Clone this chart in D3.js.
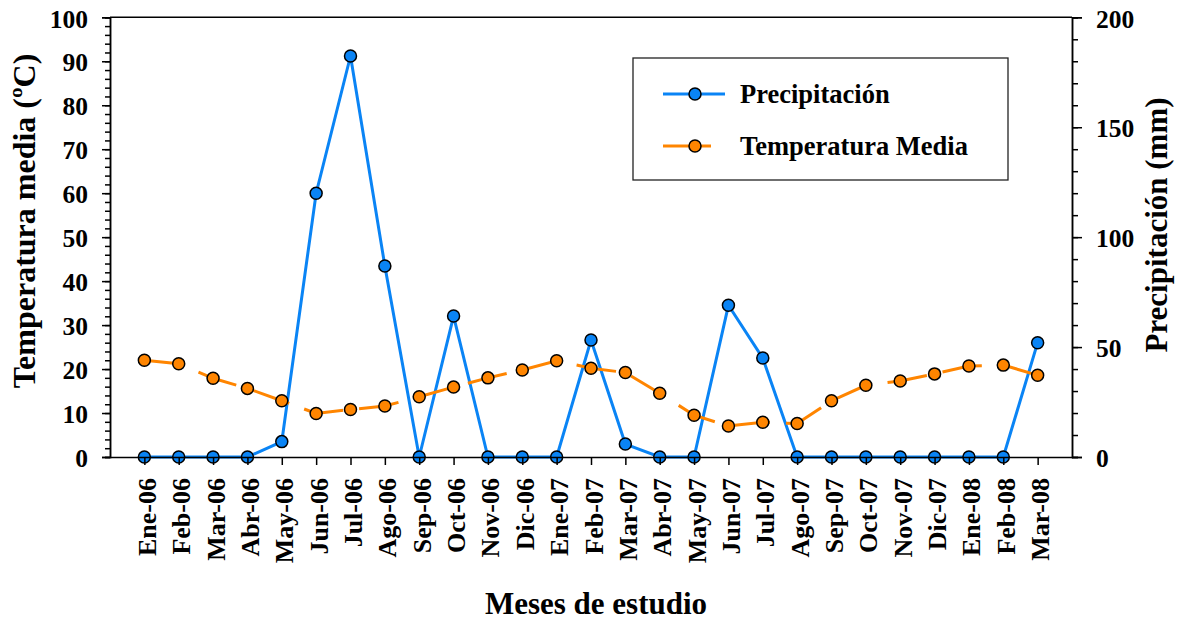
<!DOCTYPE html>
<html>
<head>
<meta charset="utf-8">
<script src="https://cdn.jsdelivr.net/npm/d3@7"></script>
<style>
  html, body { margin: 0; padding: 0; background: #fff; }
  svg { display: block; }
  text { font-family: "Liberation Serif", "Times New Roman", serif; font-weight: bold; fill: #000; }
</style>
</head>
<body>
<svg id="chart" width="1184" height="623"></svg>
<script>
// Monthly study period
const months = ["Ene-06","Feb-06","Mar-06","Abr-06","May-06","Jun-06","Jul-06","Ago-06","Sep-06",
  "Oct-06","Nov-06","Dic-06","Ene-07","Feb-07","Mar-07","Abr-07","May-07","Jun-07","Jul-07",
  "Ago-07","Sep-07","Oct-07","Nov-07","Dic-07","Ene-08","Feb-08","Mar-08"];

// Precipitation (mm), right axis
const precipitacion = [0,0,0,0,7,120,182.4,86.9,0,64.1,0,0,0,53.2,5.9,0,0,69,45,0,0,0,0,0,0,0,52];

// Mean temperature (ºC), left axis
const temperatura = [22.0,21.2,17.9,15.6,12.8,9.9,10.8,11.6,13.7,15.9,18.0,19.8,21.9,20.2,19.2,
  14.5,9.5,7.05,7.9,7.6,12.8,16.3,17.3,18.9,20.7,20.9,18.6];

const tempTicks = [0,10,20,30,40,50,60,70,80,90,100];
const precTicks = [0,50,100,150,200];

const blue = "#0a84f5";
const orange = "#ff8500";

const svg = d3.select("#chart");
const plotL = 110, plotR = 1072, plotT = 17.3, plotB = 457;

const x = d3.scalePoint().domain(months).range([plotL, plotR]).padding(1);
const yT = d3.scaleLinear().domain([0, 100]).range([plotB, plotT]);
const yP = d3.scaleLinear().domain([0, 200]).range([plotB, plotT]);

// top border
svg.append("line").attr("x1", plotL).attr("x2", plotR).attr("y1", plotT).attr("y2", plotT)
  .attr("stroke", "#000").attr("stroke-width", 1.5);

// data series
const lineP = d3.line().x((d, i) => x(months[i])).y(d => yP(d));
const lineT = d3.line().x((d, i) => x(months[i])).y(d => yT(d));

svg.append("path").datum(precipitacion).attr("d", lineP)
  .attr("fill", "none").attr("stroke", blue).attr("stroke-width", 3);

svg.append("path").datum(temperatura).attr("d", lineT)
  .attr("fill", "none").attr("stroke", orange).attr("stroke-width", 3)
  .attr("stroke-dasharray", "40,16");

svg.append("g").selectAll("circle").data(precipitacion).join("circle")
  .attr("cx", (d, i) => x(months[i])).attr("cy", d => yP(d)).attr("r", 6)
  .attr("fill", blue).attr("stroke", "#000").attr("stroke-width", 1.5);

svg.append("g").selectAll("circle").data(temperatura).join("circle")
  .attr("cx", (d, i) => x(months[i])).attr("cy", d => yT(d)).attr("r", 6)
  .attr("fill", orange).attr("stroke", "#000").attr("stroke-width", 1.5);

function styleAxis(g) {
  g.select(".domain").attr("stroke", "#000").attr("stroke-width", 1.5);
  g.selectAll(".tick line").attr("stroke", "#000").attr("stroke-width", 1.5);
  g.attr("font-family", null);
}

// left axis: minor + major
svg.append("g").attr("transform", `translate(${plotL},0)`)
  .call(d3.axisLeft(yT).tickValues(d3.range(0, 101, 2)).tickSize(5).tickFormat(""))
  .call(styleAxis);
svg.append("g").attr("transform", `translate(${plotL},0)`)
  .call(d3.axisLeft(yT).tickValues(tempTicks).tickSize(8).tickPadding(14))
  .call(styleAxis)
  .call(g => g.selectAll("text").attr("font-size", 25.5).attr("dy", "0.38em"));

// right axis: minor + major
svg.append("g").attr("transform", `translate(${plotR},0)`)
  .call(d3.axisRight(yP).tickValues(d3.range(0, 201, 10)).tickSize(6).tickFormat(""))
  .call(styleAxis);
svg.append("g").attr("transform", `translate(${plotR},0)`)
  .call(d3.axisRight(yP).tickValues(precTicks).tickSize(10).tickPadding(14))
  .call(styleAxis)
  .call(g => g.selectAll("text").attr("font-size", 25.5).attr("dy", "0.38em"));

// bottom axis with vertical month labels
svg.append("g").attr("transform", `translate(0,${plotB})`)
  .call(d3.axisBottom(x).tickSize(8).tickSizeOuter(0))
  .call(styleAxis)
  .call(g => g.selectAll("text")
    .attr("font-size", 26)
    .attr("transform", "rotate(-90)")
    .attr("text-anchor", "end")
    .attr("x", -21).attr("y", 11).attr("dy", 0));

// axis titles
svg.append("text").attr("transform", "translate(35,221) rotate(-90)")
  .attr("text-anchor", "middle").attr("font-size", 32).text("Temperatura media (ºC)");
svg.append("text").attr("transform", "translate(1167,225) rotate(-90)")
  .attr("text-anchor", "middle").attr("font-size", 31).text("Precipitación (mm)");
svg.append("text").attr("x", 596).attr("y", 614)
  .attr("text-anchor", "middle").attr("font-size", 31).text("Meses de estudio");

// legend
const legend = svg.append("g");
legend.append("rect").attr("x", 633).attr("y", 58).attr("width", 375).attr("height", 122)
  .attr("fill", "#fff").attr("stroke", "#222").attr("stroke-width", 1.3);
const legendItems = [
  { label: "Precipitación", color: blue, y: 94, dash: null },
  { label: "Temperatura Media", color: orange, y: 146, dash: "48,100" }
];
legendItems.forEach(it => {
  legend.append("line").attr("x1", 663).attr("x2", 725).attr("y1", it.y).attr("y2", it.y)
    .attr("stroke", it.color).attr("stroke-width", 3).attr("stroke-dasharray", it.dash);
  legend.append("circle").attr("cx", 695).attr("cy", it.y).attr("r", 6)
    .attr("fill", it.color).attr("stroke", "#000").attr("stroke-width", 1.5);
  legend.append("text").attr("x", 740).attr("y", it.y + 9).attr("font-size", 26.5).text(it.label);
});
</script>
</body>
</html>
